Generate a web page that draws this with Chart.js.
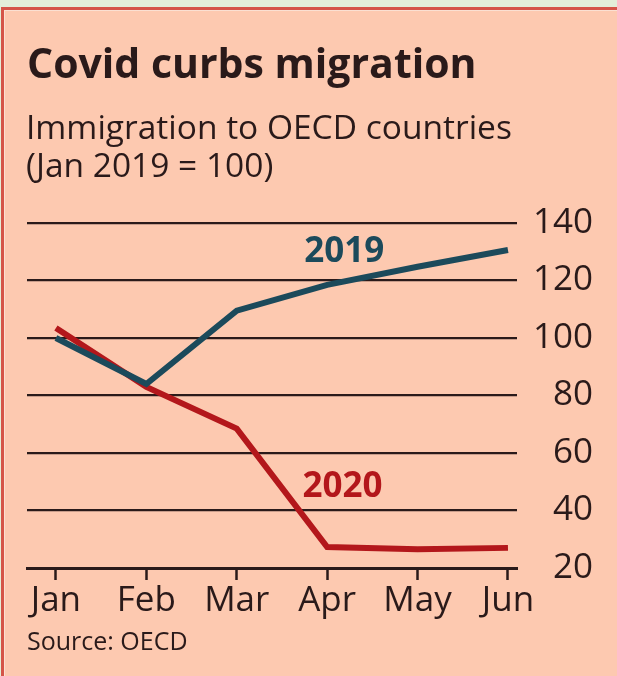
<!DOCTYPE html>
<html>
<head>
<meta charset="utf-8">
<script src="https://cdn.jsdelivr.net/npm/chart.js@4"></script>
<style>
  html, body { margin: 0; padding: 0; }
  body { width: 617px; height: 676px; background: #e3efd9; position: relative; overflow: hidden; }
  .panel {
    position: absolute; left: 1px; top: 7px; right: -4px; bottom: -4px;
    background: #fdc9b0;
    border-top: 3px solid #d55548; border-left: 3px solid #d55548;
    box-shadow: inset 1px 1px 0 #fbe0d2;
  }
  canvas { position: absolute; left: 0; top: 0; }
</style>
</head>
<body>
<div class="panel"></div>
<canvas id="c" width="617" height="676"></canvas>
<script>
// Monthly immigration index, Jan 2019 = 100
const months = ['Jan', 'Feb', 'Mar', 'Apr', 'May', 'Jun'];
const series2019 = [100, 84, 109.5, 118.5, 124.8, 130.6];
const series2020 = [103.5, 83, 68.5, 27.3, 26.5, 27];
const yTicks = [20, 40, 60, 80, 100, 120, 140];

const titleText = 'Covid curbs migration';
const subtitleLines = ['Immigration to OECD countries', '(Jan 2019 = 100)'];
const sourceText = 'Source: OECD';

const ink = '#2a1a1a';
const blue = '#1c4a5b';
const red = '#b3171b';
const fontFamily = '"Open Sans", Lato, sans-serif';

const textPlugin = {
  id: 'headings',
  afterDraw(chart) {
    const ctx = chart.ctx;
    ctx.save();
    ctx.fillStyle = ink;
    ctx.textBaseline = 'alphabetic';
    ctx.textAlign = 'left';
    ctx.font = 'bold 41px ' + fontFamily;
    ctx.fillText(titleText, 27, 78);
    ctx.font = '33.5px ' + fontFamily;
    ctx.fillText(subtitleLines[0], 26, 139);
    ctx.fillText(subtitleLines[1], 26, 177);
    ctx.font = '25px ' + fontFamily;
    ctx.fillText(sourceText, 27, 650);

    // series names next to their lines
    const xs = chart.scales.x, ys = chart.scales.y;
    ctx.font = 'bold 35px ' + fontFamily;
    ctx.textAlign = 'center';
    chart.data.datasets.forEach(ds => {
      ctx.fillStyle = ds.borderColor;
      ctx.fillText(ds.label, xs.getPixelForValue(ds.tagAt[0]), ys.getPixelForValue(ds.tagAt[1]));
    });
    ctx.restore();
  }
};

new Chart(document.getElementById('c'), {
  type: 'line',
  data: {
    datasets: [
      {
        label: '2019',
        data: series2019.map((v, i) => ({ x: i, y: v })),
        borderColor: blue,
        borderWidth: 6,
        pointRadius: 0,
        tension: 0,
        clip: false,
        tagAt: [3.19, 126.4]
      },
      {
        label: '2020',
        data: series2020.map((v, i) => ({ x: i, y: v })),
        borderColor: red,
        borderWidth: 6,
        pointRadius: 0,
        tension: 0,
        clip: false,
        tagAt: [3.17, 44.7]
      }
    ]
  },
  options: {
    responsive: false,
    animation: false,
    layout: { padding: { left: 27, top: 223, right: 24, bottom: 0 } },
    plugins: { legend: { display: false }, tooltip: { enabled: false } },
    scales: {
      x: {
        type: 'linear',
        min: -0.32,
        max: 5.1,
        afterBuildTicks(scale) { scale.ticks = months.map((m, i) => ({ value: i })); },
        afterFit(scale) { scale.height = 108; },
        ticks: {
          autoSkip: false,
          maxRotation: 0,
          padding: 0,
          color: ink,
          font: { family: fontFamily, size: 35 },
          callback: (v) => months[v]
        },
        grid: { drawOnChartArea: false, drawTicks: true, tickLength: 12, tickWidth: 2.5, tickColor: ink },
        border: { display: true, color: ink, width: 3 }
      },
      y: {
        position: 'right',
        min: 20,
        max: 140,
        afterBuildTicks(scale) { scale.ticks = yTicks.map(v => ({ value: v })); },
        afterFit(scale) { scale.width = 76; },
        ticks: {
          padding: 14,
          crossAlign: 'far',
          color: ink,
          font: { family: fontFamily, size: 35 }
        },
        grid: { color: ink, lineWidth: 2.2, drawTicks: false },
        border: { display: false }
      }
    }
  },
  plugins: [textPlugin]
});
</script>
</body>
</html>
